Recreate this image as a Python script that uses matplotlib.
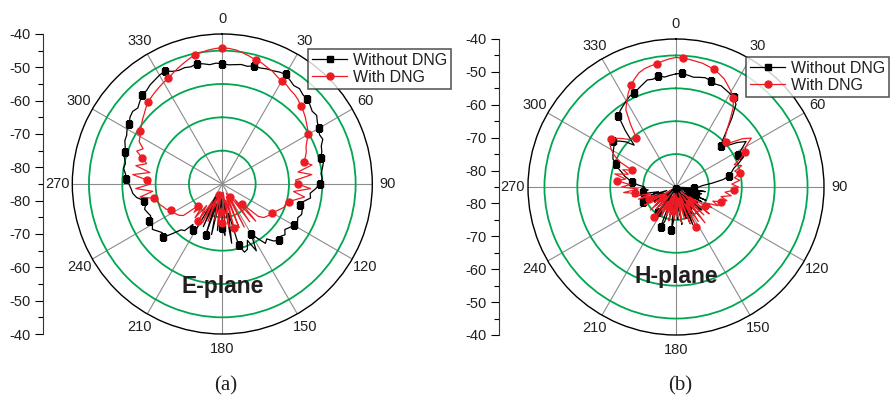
import numpy as np
import matplotlib
matplotlib.use("Agg")
import matplotlib.pyplot as plt
from matplotlib.lines import Line2D

plt.rcParams['font.family'] = ['Liberation Sans', 'DejaVu Sans']

# angles every 3 deg, values in dB
ang = np.arange(0, 361, 3)

e_without = [-48.9, -49.2, -49.0, -48.7, -48.9, -48.3, -48.4, -48.0, -47.8, -47.3,
             -47.0, -47.8, -48.5, -48.2, -48.9, -49.0, -49.6, -50.3, -50.0, -51.0,
             -51.5, -52.3, -52.0, -53.2, -53.6, -54.4, -54.0, -54.6, -55.2, -55.0,
             -55.8, -57.0, -58.5, -58.2, -60.0, -60.9, -59.8, -59.5, -60.2, -59.7,
             -60.2, -61.0, -61.8, -60.8, -61.5, -61.1, -62.0, -63.8, -63.0, -65.5,
             -67.8, -62.5, -66.5, -64.0, -63.5, -65.9, -76.0, -67.0, -79.5, -69.5,
             -71.9, -81.0, -71.0, -80.0, -69.5, -79.0, -69.0, -80.5, -71.0, -81.0,
             -69.5, -68.7, -70.0, -67.0, -66.5, -64.0, -61.1, -61.8, -61.0, -60.0,
             -60.8, -60.3, -61.5, -61.0, -60.5, -61.2, -61.0, -59.0, -58.0, -57.6,
             -57.0, -56.2, -55.8, -55.0, -55.3, -54.6, -54.3, -53.8, -53.0, -52.8,
             -52.0, -51.7, -50.8, -50.4, -50.9, -50.0, -49.1, -48.9, -48.2, -47.8,
             -47.3, -47.0, -48.0, -48.5, -48.3, -48.6, -48.1, -48.5, -49.0, -48.7,
             -48.9]
e_with = [-44.1, -44.3, -44.6, -45.2, -45.8, -46.5, -46.8, -47.5, -48.0, -48.8,
          -49.4, -49.6, -50.2, -50.5, -51.0, -51.8, -52.3, -53.0, -53.8, -54.5,
          -55.3, -56.5, -57.5, -58.0, -58.8, -59.7, -57.5, -62.0, -58.0, -63.0,
          -62.4, -58.5, -63.5, -60.0, -62.5, -64.4, -65.0, -65.3, -66.2, -67.0,
          -67.7, -68.0, -68.5, -69.0, -70.5, -76.7, -70.0, -79.0, -71.0, -81.0,
          -80.4, -70.5, -82.0, -71.0, -81.0, -71.3, -80.0, -72.0, -82.5, -74.0,
          -73.4, -76.5, -72.5, -82.0, -74.0, -80.0, -81.6, -73.0, -80.0, -72.0,
          -79.0, -71.6, -77.0, -72.0, -76.0, -73.0, -75.3, -70.0, -69.0, -68.5,
          -68.0, -67.7, -66.5, -66.0, -65.2, -64.8, -64.2, -60.0, -64.0, -59.0,
          -63.5, -62.4, -58.0, -63.0, -58.5, -61.5, -59.8, -57.5, -59.0, -57.0,
          -56.5, -55.7, -55.0, -54.2, -53.5, -52.6, -51.8, -51.3, -50.8, -50.3,
          -49.8, -49.4, -48.6, -47.8, -47.0, -46.2, -45.3, -45.0, -44.6, -44.3,
          -44.1]
h_without = [-50.6, -50.4, -50.8, -51.2, -50.9, -50.6, -51.0, -51.5, -51.3, -51.8,
             -52.2, -52.5, -54.0, -58.0, -62.0, -65.0, -66.5, -65.0, -62.0, -59.6,
             -62.0, -63.7, -62.5, -64.5, -66.5, -67.5, -68.4, -70.5, -74.0, -77.0,
             -78.0, -79.4, -84.0, -76.0, -83.0, -77.0, -78.6, -84.0, -75.0, -82.0,
             -76.0, -80.0, -77.0, -84.0, -74.5, -76.0, -81.1, -73.5, -83.0, -75.0,
             -82.0, -77.0, -72.5, -83.0, -75.0, -80.0, -84.3, -73.5, -80.0, -75.0,
             -84.0, -76.0, -71.8, -82.0, -75.0, -83.0, -74.0, -72.0, -82.0, -75.0,
             -83.0, -76.0, -75.7, -82.0, -77.0, -84.0, -76.5, -80.0, -84.0, -77.0,
             -81.0, -75.5, -74.1, -82.0, -77.0, -79.5, -76.0, -74.7, -76.5, -74.5,
             -75.5, -73.5, -71.7, -70.5, -69.0, -68.0, -66.5, -65.5, -64.0, -63.5,
             -63.0, -62.5, -61.4, -62.8, -64.5, -67.0, -62.0, -57.1, -56.2, -55.5,
             -54.8, -54.0, -53.6, -53.0, -52.2, -51.3, -51.5, -50.7, -51.4, -51.0,
             -50.6]
h_with = [-45.6, -45.8, -46.0, -46.3, -46.5, -47.0, -47.4, -48.2, -49.0, -50.3,
          -51.5, -52.9, -55.5, -59.0, -62.0, -64.0, -64.6, -63.5, -60.0, -57.7,
          -60.5, -61.5, -63.5, -66.0, -64.0, -66.5, -65.2, -67.0, -65.5, -68.0,
          -66.0, -67.2, -70.0, -68.0, -71.0, -69.0, -70.5, -73.0, -71.0, -74.0,
          -72.5, -74.6, -80.0, -72.0, -83.0, -73.0, -78.7, -71.0, -82.0, -72.5,
          -79.0, -71.4, -83.0, -73.0, -81.0, -75.0, -80.5, -74.0, -82.0, -76.0,
          -83.0, -75.0, -77.7, -82.0, -74.5, -83.0, -76.0, -78.5, -82.0, -75.0,
          -80.0, -74.5, -73.8, -82.0, -76.0, -81.0, -74.5, -80.0, -77.0, -83.0,
          -74.0, -80.0, -76.0, -78.0, -73.0, -77.0, -71.5, -72.5, -69.0, -73.5,
          -68.5, -71.0, -66.9, -69.5, -66.0, -70.0, -68.0, -70.6, -66.5, -64.0,
          -62.3, -61.0, -60.4, -61.5, -63.0, -64.5, -65.5, -65.9, -61.5, -57.0,
          -55.0, -53.0, -51.2, -49.8, -48.5, -47.8, -47.4, -47.1, -46.5, -46.0,
          -45.6]

# where the symbols sit (deg)
e_without_mk = [0, 15, 30, 45, 60, 75, 90, 105, 120, 135, 150, 165, 180,
                198, 213, 228, 243, 258, 273, 288, 303, 318, 333, 348]
e_with_mk = [0, 15, 30, 45, 60, 75, 90, 105, 120, 135, 150, 165, 180, 183,
             198, 213, 228, 243, 258, 273, 288, 303, 318, 333, 348]
h_mk = [3, 18, 33, 48, 63, 78, 93, 108, 123, 138, 153, 168, 186, 201, 216,
        231, 246, 261, 276, 291, 306, 321, 336, 351]

theta_lbl = [str(t) for t in range(0, 360, 30)]
scale_lbl = ['-40', '-50', '-60', '-70', '-80']
rmin, rmax = -85, -40
rings = [-75, -65, -55, -45]

GREEN = '#00a651'
RED = '#ed1c24'
TXT = '#231f20'
W, H = 890, 403

fig = plt.figure(figsize=(W / 100, H / 100), dpi=100)


def idx(marks):
    return [int(np.argmin(np.abs(ang - m))) for m in marks]


def polar(cx, cy, r, without, wmk, withd, dmk, name, name_y, leg_xy):
    ax = fig.add_axes([(cx - r) / W, (H - cy - r) / H, 2 * r / W, 2 * r / H],
                      projection='polar')
    ax.set_theta_zero_location('N')
    ax.set_theta_direction(-1)
    ax.set_rlim(rmin, rmax)
    ax.set_rgrids(rings, labels=[''] * len(rings))
    ax.set_thetagrids(range(0, 360, 30), theta_lbl, fontsize=10.5, color=TXT)
    ax.set_xticks(np.deg2rad(np.arange(15, 360, 30)), minor=True)
    ax.tick_params(axis='x', which='major', pad=4, length=4, direction='in')
    ax.tick_params(axis='x', which='minor', length=4, direction='in', color='k')
    ax.yaxis.grid(True, color=GREEN, lw=1.3)
    ax.xaxis.grid(True, color='#8c8c8c', lw=0.8)
    ax.spines['polar'].set_linewidth(1.0)
    th = np.deg2rad(ang)
    ax.plot(th, without, color='k', lw=0.9, marker='s', ms=4.5,
            markevery=idx(wmk))
    ax.plot(th, withd, color=RED, lw=0.9, marker='o', ms=5,
            markevery=idx(dmk))
    fig.text(cx / W, 1 - name_y / H, name, ha='center', va='center',
             fontsize=16.5, fontweight='bold', color=TXT)

    # Origin-style straight dB scale on the left
    sc = fig.add_axes([(cx - r - 29) / W, (H - cy - r) / H, 0.0005, 2 * r / H])
    sc.set_ylim(-45, 45)
    for s in ['right', 'top', 'bottom']:
        sc.spines[s].set_visible(False)
    sc.spines['left'].set_color('#333333')
    sc.set_xticks([])
    maj = [45, 35, 25, 15, 5, -5, -15, -25, -35, -45]
    sc.set_yticks(maj)
    sc.set_yticklabels(scale_lbl + scale_lbl[::-1], fontsize=10.5, color=TXT)
    sc.set_yticks([40, 30, 20, 10, 0, -10, -20, -30, -40], minor=True)
    sc.tick_params(axis='y', which='major', length=6, width=0.8, pad=3)
    sc.tick_params(axis='y', which='minor', length=3.5, width=0.8)

    hs = [Line2D([], [], color='k', lw=0.9, marker='s', ms=4.5),
          Line2D([], [], color=RED, lw=0.9, marker='o', ms=5)]
    leg = fig.legend(hs, ['Without DNG', 'With DNG'], loc='upper left',
                     bbox_to_anchor=(leg_xy[0] / W, 1 - leg_xy[1] / H),
                     bbox_transform=fig.transFigure, fontsize=11.5,
                     frameon=True, fancybox=False, borderaxespad=0,
                     borderpad=0.25, labelspacing=0.12, handlelength=2.2,
                     handletextpad=0.35)
    leg.get_frame().set_edgecolor('#333333')
    leg.get_frame().set_linewidth(1.2)
    for t in leg.get_texts():
        t.set_color(TXT)
    return ax


polar(222.3, 184, 150, e_without, e_without_mk, e_with, e_with_mk,
      'E-plane', 286, (308, 49))
polar(676, 187, 148, h_without, h_mk, h_with, h_mk,
      'H-plane', 277, (746, 57))

fig.text(226 / W, 1 - 386 / H, '(a)', ha='center', va='center', fontsize=15,
         family=['Liberation Serif', 'DejaVu Serif'], color=TXT)
fig.text(680 / W, 1 - 386 / H, '(b)', ha='center', va='center', fontsize=15,
         family=['Liberation Serif', 'DejaVu Serif'], color=TXT)

fig.savefig('out.png', dpi=100)
